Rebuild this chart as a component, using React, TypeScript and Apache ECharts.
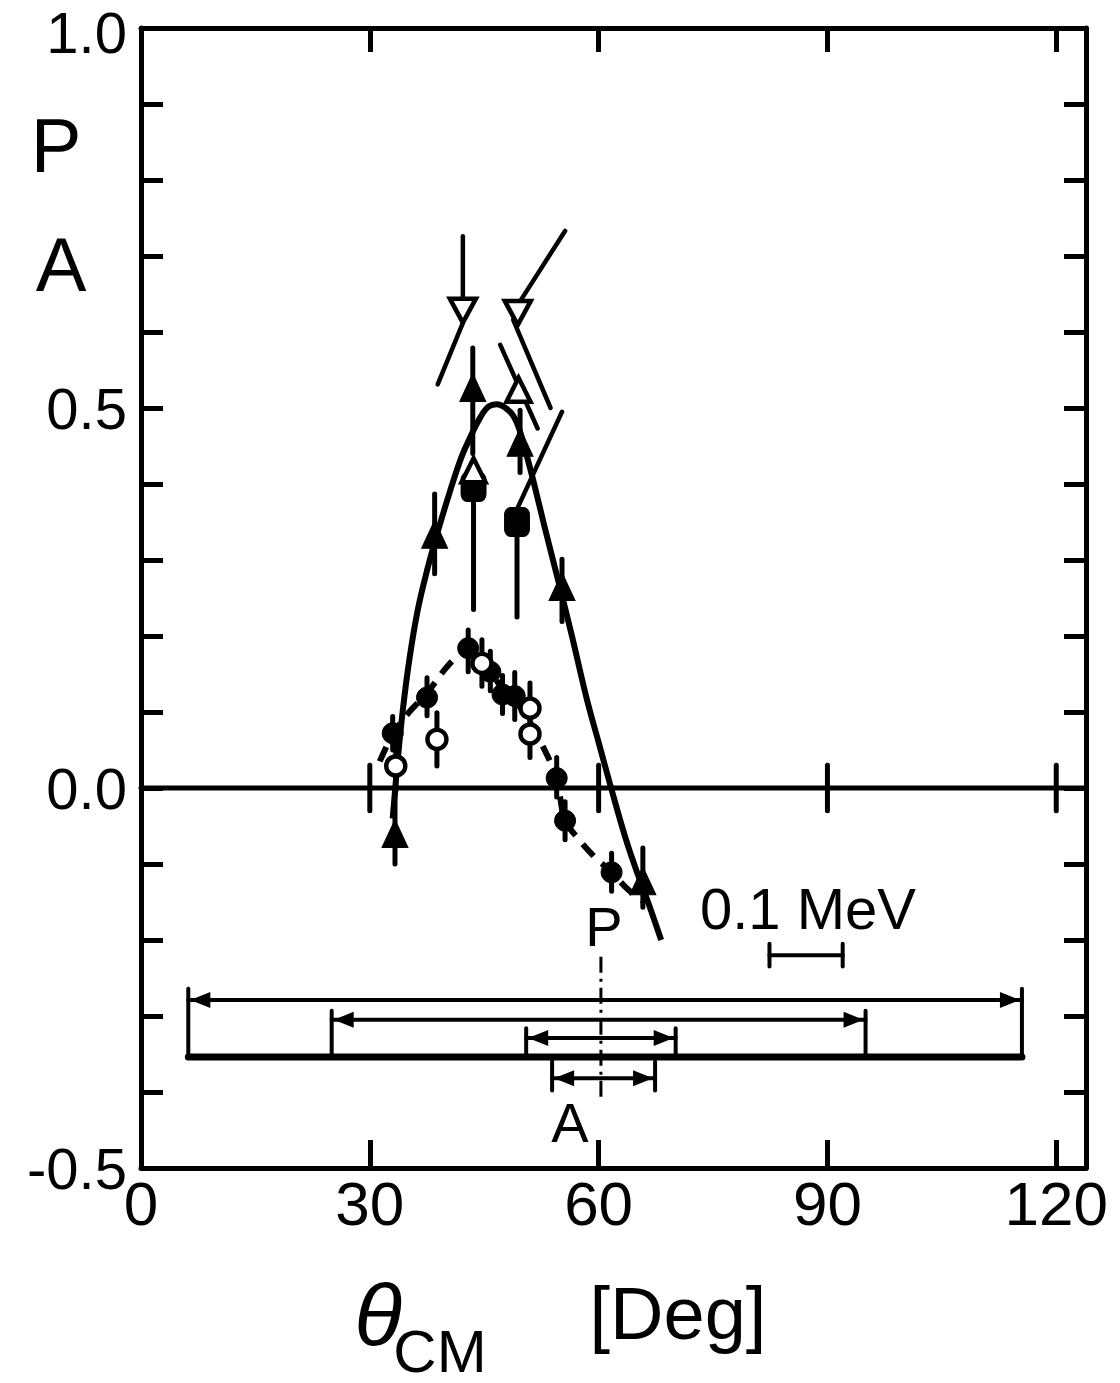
import React, { useEffect, useRef } from "react";
import * as echarts from "echarts";

// ---------- data ----------
const xTickValues = [0, 30, 60, 90, 120];
const xInnerTickValues = [30, 60, 90, 120];
const yLabelValues = [-0.5, 0, 0.5];
const yTopLabel = "1.0";
const yTickValues = [-0.4, -0.3, -0.2, -0.1, 0, 0.1, 0.2, 0.3, 0.4, 0.5, 0.6, 0.7, 0.8, 0.9];

// solid fit curve (P)
const solidFit: number[][] = [
  [33.0, -0.04], [33.6, 0.03], [34.3, 0.1], [35.2, 0.17], [36.3, 0.235], [37.6, 0.29],
  [38.9, 0.337], [40.5, 0.39], [42.0, 0.435], [43.1, 0.46], [44.5, 0.488], [45.6, 0.502],
  [46.7, 0.505], [47.8, 0.5], [48.8, 0.49], [49.6, 0.472], [50.5, 0.44], [51.4, 0.406],
  [53.0, 0.34], [54.9, 0.265], [56.5, 0.2], [58.5, 0.115], [60.0, 0.06], [61.5, 0.005],
  [63.5, -0.065], [65.0, -0.11], [66.3, -0.145], [68.2, -0.2],
];

// dashed fit curve (A)
const dashedFit: number[][] = [
  [31.3, 0.035], [33.0, 0.07], [35.0, 0.098], [37.5, 0.125], [40.0, 0.158], [42.0, 0.178],
  [43.0, 0.184], [44.2, 0.175], [45.8, 0.155], [47.4, 0.13], [49.0, 0.115], [50.5, 0.095],
  [52.0, 0.068], [53.4, 0.04], [54.5, 0.013], [55.0, -0.015], [55.6, -0.043], [57.2, -0.065],
  [59.2, -0.088], [61.7, -0.111], [64.0, -0.135], [66.0, -0.15],
];

// filled triangles [x, y] and error bars [x, lo, hi]
const filledTriangles: number[][] = [
  [33.3, -0.06], [38.5, 0.334], [43.5, 0.527], [49.7, 0.455], [55.2, 0.265], [65.8, -0.122],
];
const filledTriangleErr: number[][] = [
  [33.3, -0.1, 0.0], [38.5, 0.282, 0.387], [43.5, 0.44, 0.579], [49.7, 0.415, 0.497],
  [55.2, 0.219, 0.301], [65.8, -0.157, -0.079],
];

// filled squares
const filledSquares: number[][] = [[43.6, 0.396], [49.3, 0.35]];
const filledSquareErr: number[][] = [[43.6, 0.235, 0.396], [49.3, 0.225, 0.35]];

// open triangles (up / down)
const openUpTriangles: number[][] = [[43.6, 0.418], [49.5, 0.524]];
const openDownTriangles: number[][] = [[42.2, 0.628], [49.4, 0.625]];

// filled circles
const filledCircles: number[][] = [
  [33.0, 0.072], [37.5, 0.119], [42.9, 0.184], [45.8, 0.153], [47.4, 0.123], [49.0, 0.121],
  [54.5, 0.013], [55.6, -0.043], [61.7, -0.111],
];
const filledCircleErr: number[][] = [
  [33.0, 0.05, 0.094], [37.5, 0.095, 0.145], [42.9, 0.153, 0.208], [45.8, 0.128, 0.18],
  [47.4, 0.098, 0.148], [49.0, 0.09, 0.152], [54.5, -0.012, 0.04], [55.6, -0.068, -0.018],
  [61.7, -0.136, -0.086],
];

// open circles
const openCircles: number[][] = [
  [33.4, 0.029], [38.8, 0.064], [44.7, 0.164], [51.0, 0.105], [51.0, 0.071],
];
const openCircleErr: number[][] = [
  [33.4, -0.005, 0.06], [38.8, 0.029, 0.099], [44.7, 0.134, 0.195], [51.0, 0.08, 0.138],
  [51.0, 0.04, 0.09],
];

// hand-drawn guide strokes [x1, y1, x2, y2]
const guideSegments: number[][] = [
  [42.2, 0.645, 42.2, 0.726],
  [42.2, 0.612, 38.9, 0.531],
  [55.6, 0.733, 49.3, 0.634],
  [48.8, 0.616, 53.7, 0.5],
  [47.1, 0.583, 52.0, 0.473],
  [55.2, 0.495, 49.3, 0.367],
];

// zero line and its ticks
const X_MAX = 123.9;
const zeroLine: number[][] = [[0, 0, X_MAX, 0]];
const zeroLineTicks: number[][] = xInnerTickValues.map((x) => [x, -0.03, x, 0.03]);

// resolution bars [x1, x2, y, verticalFrom, verticalTo]
const resolutionBars: number[][] = [
  [6.2, 115.5, -0.279, -0.264, -0.354],
  [25.0, 95.0, -0.305, -0.293, -0.354],
  [50.5, 70.1, -0.329, -0.316, -0.354],
  [53.9, 67.4, -0.382, -0.36, -0.398],
];
const baseline: number[][] = [[6.2, -0.354, 115.5, -0.354]];
const dashDotLine: number[][] = [[60.3, -0.222, 60.3, -0.408]];
const mevBar: number[][] = [[82.4, -0.22, 92.0, -0.22]];
const mevBarCaps: number[][] = [[82.4, -0.205, 82.4, -0.235], [92.0, -0.205, 92.0, -0.235]];

// ---------- helpers ----------
const FONT = "'Liberation Sans', Arial, sans-serif";

function segmentSeries(data: number[][], width: number, z = 2, extraStyle: any = {}) {
  return {
    type: "custom",
    coordinateSystem: "cartesian2d",
    silent: true,
    clip: false,
    z,
    data,
    encode: { x: [0, 2], y: [1, 3] },
    renderItem: (_p: any, api: any) => {
      const p1 = api.coord([api.value(0), api.value(1)]);
      const p2 = api.coord([api.value(2), api.value(3)]);
      return {
        type: "line",
        shape: { x1: p1[0], y1: p1[1], x2: p2[0], y2: p2[1] },
        style: { stroke: "#000", lineWidth: width, lineCap: "round", ...extraStyle },
      };
    },
  };
}

function errorSeries(data: number[][]) {
  return segmentSeries(
    data.map((d) => [d[0], d[1], d[0], d[2]]),
    5,
    3
  );
}

function scatter(data: number[][], symbol: string, size: any, filled: boolean, rotate = 0) {
  return {
    type: "scatter",
    data,
    symbol,
    symbolSize: size,
    symbolRotate: rotate,
    silent: true,
    z: 5,
    itemStyle: filled
      ? { color: "#000", borderColor: "#000", borderWidth: 1, opacity: 1 }
      : { color: "#fff", borderColor: "#000", borderWidth: 4.5, opacity: 1 },
  };
}

const resolutionSeries = {
  type: "custom",
  coordinateSystem: "cartesian2d",
  silent: true,
  clip: false,
  z: 2,
  data: resolutionBars,
  encode: { x: [0, 1], y: [2, 3, 4] },
  renderItem: (_p: any, api: any) => {
    const x1 = api.value(0), x2 = api.value(1), y = api.value(2);
    const v1 = api.value(3), v2 = api.value(4);
    const a = api.coord([x1, y]);
    const b = api.coord([x2, y]);
    const a1 = api.coord([x1, v1]);
    const a2 = api.coord([x1, v2]);
    const b1 = api.coord([x2, v1]);
    const b2 = api.coord([x2, v2]);
    const L = 22, H = 8;
    const st = { stroke: "#000", lineWidth: 4, lineCap: "round" };
    return {
      type: "group",
      children: [
        { type: "line", shape: { x1: a[0], y1: a[1], x2: b[0], y2: b[1] }, style: st },
        { type: "line", shape: { x1: a1[0], y1: a1[1], x2: a2[0], y2: a2[1] }, style: st },
        { type: "line", shape: { x1: b1[0], y1: b1[1], x2: b2[0], y2: b2[1] }, style: st },
        {
          type: "polygon",
          shape: { points: [[a[0] + 2, a[1]], [a[0] + L, a[1] - H], [a[0] + L, a[1] + H]] },
          style: { fill: "#000" },
        },
        {
          type: "polygon",
          shape: { points: [[b[0] - 2, b[1]], [b[0] - L, b[1] - H], [b[0] - L, b[1] + H]] },
          style: { fill: "#000" },
        },
      ],
    };
  },
};

function text(x: number, y: number, t: string, size: number, extra: any = {}) {
  return {
    type: "text",
    x,
    y,
    silent: true,
    z: 10,
    style: {
      text: t,
      fontSize: size,
      fontFamily: FONT,
      fill: "#000",
      align: "center",
      verticalAlign: "middle",
      ...extra,
    },
  };
}

const axisLineStyle = { show: true, lineStyle: { color: "#000", width: 5 }, onZero: false };

const option: any = {
  animation: false,
  backgroundColor: "#fff",
  grid: { left: 141, top: 28, right: 34, bottom: 215, containLabel: false },
  xAxis: [
    {
      type: "value",
      position: "bottom",
      min: 0,
      max: X_MAX,
      axisLine: axisLineStyle,
      splitLine: { show: false },
      axisTick: {
        show: true,
        inside: true,
        length: 28,
        customValues: xInnerTickValues,
        lineStyle: { color: "#000", width: 5 },
      },
      axisLabel: {
        show: true,
        customValues: xTickValues,
        fontSize: 62,
        fontFamily: FONT,
        color: "#000",
        margin: 4,
      },
    },
    {
      type: "value",
      position: "top",
      min: 0,
      max: X_MAX,
      axisLine: axisLineStyle,
      splitLine: { show: false },
      axisTick: {
        show: true,
        inside: true,
        length: 24,
        customValues: xInnerTickValues,
        lineStyle: { color: "#000", width: 5 },
      },
      axisLabel: { show: false },
    },
  ],
  yAxis: [
    {
      type: "value",
      position: "left",
      min: -0.5,
      max: 1.0,
      axisLine: axisLineStyle,
      splitLine: { show: false },
      axisTick: {
        show: true,
        inside: true,
        length: 22,
        customValues: yTickValues,
        lineStyle: { color: "#000", width: 5 },
      },
      axisLabel: {
        show: true,
        customValues: yLabelValues,
        formatter: (v: number) => v.toFixed(1),
        fontSize: 58,
        fontFamily: FONT,
        color: "#000",
        margin: 14,
      },
    },
    {
      type: "value",
      position: "right",
      min: -0.5,
      max: 1.0,
      axisLine: axisLineStyle,
      splitLine: { show: false },
      axisTick: {
        show: true,
        inside: true,
        length: 22,
        customValues: yTickValues,
        lineStyle: { color: "#000", width: 5 },
      },
      axisLabel: { show: false },
    },
  ],
  series: [
    segmentSeries(zeroLine, 5, 1),
    segmentSeries(zeroLineTicks, 5, 1),
    {
      type: "line",
      data: solidFit,
      smooth: 0.4,
      showSymbol: false,
      silent: true,
      z: 4,
      lineStyle: { color: "#000", width: 6, opacity: 1 },
    },
    {
      type: "line",
      data: dashedFit,
      smooth: 0.4,
      showSymbol: false,
      silent: true,
      z: 4,
      lineStyle: { color: "#000", width: 6, type: [16, 11], opacity: 1 },
    },
    segmentSeries(guideSegments, 4.5, 3),
    errorSeries(filledTriangleErr),
    errorSeries(filledSquareErr),
    errorSeries(filledCircleErr),
    errorSeries(openCircleErr),
    scatter(filledTriangles, "triangle", [26, 28], true),
    scatter(filledSquares, "roundRect", [25, 29], true),
    scatter(openUpTriangles, "triangle", [24, 24], false),
    scatter(openDownTriangles, "triangle", [26, 24], false, 180),
    scatter(filledCircles, "circle", 21, true),
    scatter(openCircles, "circle", 19, false),
    resolutionSeries,
    segmentSeries(baseline, 7, 2),
    segmentSeries(dashDotLine, 3, 2, { lineDash: [16, 6, 3, 6], lineCap: "butt" }),
    segmentSeries(mevBar, 4, 2),
    segmentSeries(mevBarCaps, 4, 2),
  ],
  graphic: [
    text(127, 32, yTopLabel, 58, { align: "right" }),
    text(56, 145, "P", 76),
    text(61, 264, "A", 76),
    text(604, 926, "P", 56),
    text(570, 1122, "A", 56),
    text(808, 908, "0.1 MeV", 58),
    text(378, 1314, "θ", 88, { fontStyle: "italic" }),
    text(440, 1351, "CM", 60),
    text(678, 1313, "[Deg]", 74),
  ],
};

export default function App() {
  const ref = useRef<HTMLDivElement>(null);
  useEffect(() => {
    if (!ref.current) return;
    const chart = echarts.init(ref.current, null, { renderer: "svg" });
    chart.setOption(option);
    return () => chart.dispose();
  }, []);
  return (
    <div
      ref={ref}
      style={{ position: "fixed", left: 0, top: 0, width: 1120, height: 1383, background: "#fff" }}
    />
  );
}
